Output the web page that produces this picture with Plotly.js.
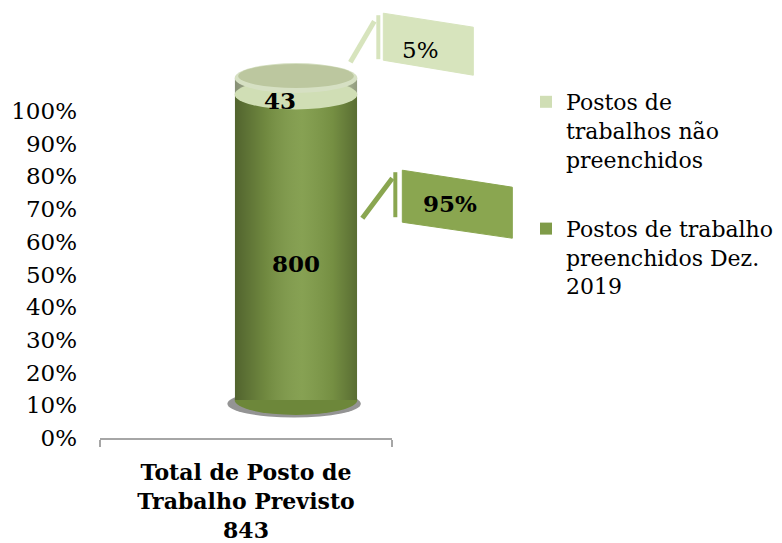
<!DOCTYPE html>
<html><head><meta charset="utf-8">
<script src="https://cdn.plot.ly/plotly-3.0.1.min.js"></script>
<style>html,body{margin:0;padding:0;background:#fff}#c{width:782px;height:543px}</style>
</head><body><div id="c"></div>
<script>
const categories = ['Total de Posto de<br>Trabalho Previsto<br>843'];
const seriesNames = ['Postos de trabalho<br>preenchidos Dez.<br>2019', 'Postos de<br>trabalhos não<br>preenchidos'];
const filled = [800];
const unfilled = [43];
const percentLabels = ['95%', '5%'];
const tickVals = [0,10,20,30,40,50,60,70,80,90,100];
const tickText = ['0%','10%','20%','30%','40%','50%','60%','70%','80%','90%','100%'];

const total = filled[0] + unfilled[0];
const pFilled = filled[0] / total * 100;
const pTop = 100;
const FONT = 'DejaVu Serif';
const darkG = '#7f9b48', lightG = '#d0deb5', capG = '#d6e0c3', faceG = '#bcc79f';
const boxDark = '#8aa650', boxLight = '#d7e4bd';
const bw = 0.42;

const traces = [
  {type:'bar', x:categories, y:filled, name:seriesNames[0], xaxis:'x2', yaxis:'y2',
   marker:{color:darkG}, width:bw, legendgroup:'a', legendrank:2, hoverinfo:'skip'},
  {type:'bar', x:categories, y:unfilled, name:seriesNames[1], xaxis:'x2', yaxis:'y2',
   marker:{color:lightG}, width:bw, legendgroup:'b', legendrank:1, hoverinfo:'skip'},
  {type:'scatter', x:categories, y:[null], xaxis:'x', yaxis:'y', showlegend:false, hoverinfo:'skip'}
];

const ell = (yv, color, layer, h) => ({type:'circle', xref:'x2', yref:'y2', x0:-bw/2, x1:bw/2,
  ysizemode:'pixel', yanchor:yv, y0:-h, y1:h, fillcolor:color, line:{width:0}, layer:layer});

// callout decorations, offsets in pixels from the label's anchor point on the bar edge
const callout = (yv, color, lead, strip, box) => [
  {type:'line', xref:'x2', yref:'y2', xsizemode:'pixel', ysizemode:'pixel', xanchor:bw/2, yanchor:yv,
   x0:lead[0], y0:lead[1], x1:lead[2], y1:lead[3], line:{color:color, width:5}, layer:'above'},
  {type:'rect', xref:'x2', yref:'y2', xsizemode:'pixel', ysizemode:'pixel', xanchor:bw/2, yanchor:yv,
   x0:strip[0], x1:strip[1], y0:strip[2], y1:strip[3], fillcolor:color, line:{width:0}, layer:'above'},
  {type:'path', xref:'x2', yref:'y2', xsizemode:'pixel', ysizemode:'pixel', xanchor:bw/2, yanchor:yv,
   path:box, fillcolor:color, line:{color:color, width:1}, layer:'above'}
];

const shapes = [
  {type:'circle', xref:'x2', yref:'y2', x0:-bw/2-0.025, x1:bw/2+0.012, ysizemode:'pixel', yanchor:0, y0:-17.5, y1:10,
   fillcolor:'rgba(60,60,60,0.55)', line:{width:0}, layer:'below'},
  ell(0, '#6d873a', 'below', 15),
  ell(pFilled, lightG, 'above', 15),
  ell(pTop, capG, 'above', 15),
  {type:'circle', xref:'x2', yref:'y2', x0:-bw/2+0.012, x1:bw/2-0.012, ysizemode:'pixel', yanchor:pTop, y0:-10, y1:14,
   fillcolor:faceG, line:{width:0}, layer:'above'},
  ...callout(pFilled/2, boxDark, [5,29,35,69], [36,40,30,75], 'M45,77L155,60L155,9L45,25Z'),
  ...callout((pFilled+pTop)/2, boxLight, [-7,24,17,65], [19,23,27,71], 'M26,73L116,59L116,11L26,26Z')
];

const grad = '<svg xmlns="http://www.w3.org/2000/svg" width="100" height="100" preserveAspectRatio="none">' +
  '<defs><linearGradient id="g" x1="0" x2="1" y1="0" y2="0">' +
  '<stop offset="0" stop-color="#000" stop-opacity="0.36"/>' +
  '<stop offset="0.25" stop-color="#000" stop-opacity="0.12"/>' +
  '<stop offset="0.55" stop-color="#fff" stop-opacity="0.06"/>' +
  '<stop offset="0.8" stop-color="#000" stop-opacity="0.08"/>' +
  '<stop offset="1" stop-color="#000" stop-opacity="0.30"/>' +
  '</linearGradient></defs><rect width="100" height="100" fill="url(#g)"/></svg>';

const images = [{source:'data:image/svg+xml;charset=utf-8,' + encodeURIComponent(grad),
  xref:'x2', yref:'y2', x:-bw/2, y:pTop, sizex:bw, sizey:pTop, sizing:'stretch',
  xanchor:'left', yanchor:'top', layer:'above'}];

const annotations = [
  {xref:'x2', yref:'y2', x:0, y:pFilled/2, text:'<b>'+filled[0]+'</b>', showarrow:false, yshift:-16,
   font:{family:FONT, size:23, color:'#000'}},
  {xref:'x2', yref:'y2', x:0, y:(pFilled+pTop)/2, text:'<b>'+unfilled[0]+'</b>', showarrow:false, yshift:-14, xshift:-16,
   font:{family:FONT, size:23, color:'#000'}},
  {xref:'x2', yref:'y2', x:bw/2, y:pFilled/2, xshift:93, yshift:44, text:'<b>'+percentLabels[0]+'</b>',
   showarrow:false, font:{family:FONT, size:23, color:'#000'}},
  {xref:'x2', yref:'y2', x:bw/2, y:(pFilled+pTop)/2, xshift:63, yshift:36, text:percentLabels[1],
   showarrow:false, font:{family:FONT, size:23, color:'#000'}}
];

const layout = {
  width:782, height:543, paper_bgcolor:'#fff', plot_bgcolor:'rgba(0,0,0,0)',
  margin:{l:100, r:250, t:5, b:105, autoexpand:false},
  barmode:'stack', barnorm:'percent', showlegend:true,
  font:{family:FONT, size:22, color:'#000'},
  xaxis:{domain:[0, 292/432], type:'category', range:[-0.5,0.5], tickson:'boundaries', ticks:'outside',
    ticklen:7, tickwidth:2, tickcolor:'#a6a6a6', showline:true, linecolor:'#a6a6a6', linewidth:2,
    showgrid:false, zeroline:false, ticklabelstandoff:14,
    tickfont:{family:FONT, size:22, weight:'bold', color:'#000'}, anchor:'y'},
  yaxis:{domain:[0,1], range:[0, 100*433/327], tickvals:tickVals, ticktext:tickText, ticks:'',
    showline:false, showgrid:false, zeroline:false, ticklabelstandoff:22,
    tickfont:{family:FONT, size:23, color:'#000'}, anchor:'x'},
  xaxis2:{domain:[50/432, 1], type:'category', range:[-0.5, -0.5 + 382/292], visible:false, anchor:'y2'},
  yaxis2:{domain:[0, 1], range:[-38/3.22, 395/3.22], visible:false, anchor:'x2'},
  legend:{xref:'container', yref:'container', x:526/782, y:1-81/543, xanchor:'left', yanchor:'top',
    valign:'top', traceorder:'grouped', tracegroupgap:38,
    font:{family:FONT, size:22, color:'#000'}, bgcolor:'rgba(0,0,0,0)'},
  shapes:shapes, annotations:annotations, images:images
};

Plotly.newPlot('c', traces, layout, {displayModeBar:false, staticPlot:true});
</script></body></html>
